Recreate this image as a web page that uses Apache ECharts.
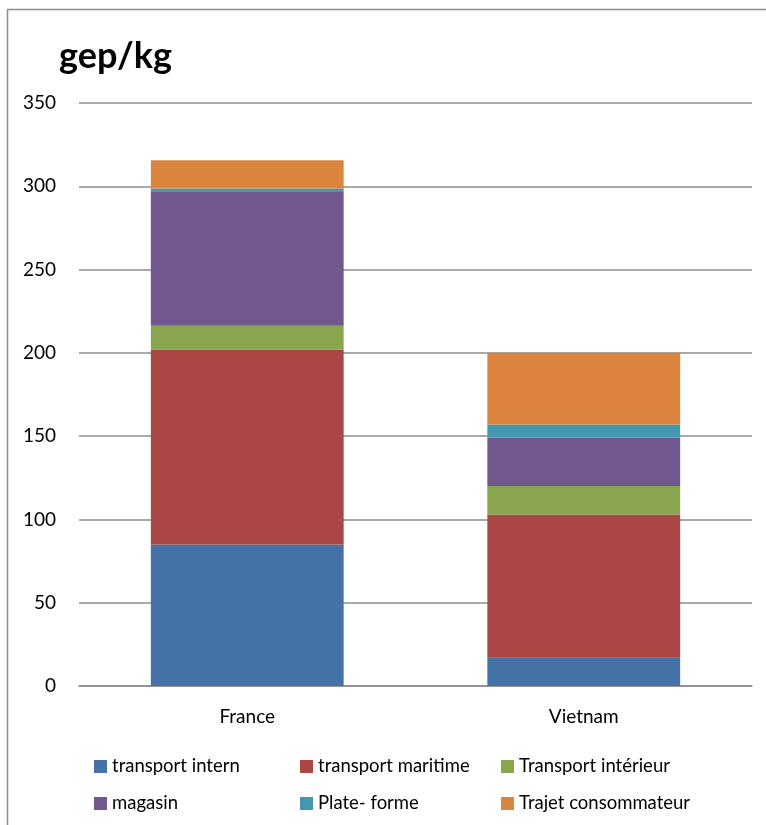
<!DOCTYPE html>
<html>
<head>
<meta charset="utf-8">
<script src="https://cdn.jsdelivr.net/npm/echarts@6/dist/echarts.min.js"></script>
<style>
  html, body { margin: 0; padding: 0; background: #fff; }
  #chart { width: 766px; height: 825px; }
</style>
</head>
<body>
<div id="chart"></div>
<script>
const categories = ['France', 'Vietnam'];
const seriesNames = ['transport intern', 'transport maritime', 'Transport intérieur', 'magasin', 'Plate- forme', 'Trajet consommateur'];
const transportIntern = [85, 17];
const transportMaritime = [117, 86];
const transportInterieur = [14.3, 17];
const magasin = [80.3, 29];
const plateForme = [2, 8];
const trajetConsommateur = [17, 43];
const yTicks = [0, 50, 100, 150, 200, 250, 300, 350];

const colors = ['#4572A7', '#AA4643', '#89A54E', '#71588F', '#4198AF', '#DB843D'];
const values = [transportIntern, transportMaritime, transportInterieur, magasin, plateForme, trajetConsommateur];
const font = 'Lato, "Open Sans", sans-serif';

// legend slots: 3 columns x 2 rows
const legendPos = [[94, 757], [300, 757], [501, 757], [94, 794], [300, 794], [501, 794]];

const chart = echarts.init(document.getElementById('chart'));

const option = {
  animation: false,
  graphic: [{
    type: 'rect',
    shape: { x: 7.5, y: 9.5, width: 900, height: 900 },
    style: { fill: 'none', stroke: '#8c8c8c', lineWidth: 1.5 }
  }],
  title: {
    text: 'gep/kg',
    left: 54,
    top: 33,
    textStyle: { fontFamily: font, fontWeight: 'bold', fontSize: 36, color: '#000' }
  },
  legend: seriesNames.map((n, i) => ({
    data: [n],
    left: legendPos[i][0],
    top: legendPos[i][1],
    padding: 0,
    itemWidth: 13,
    itemHeight: 13,
    itemGap: 0,
    icon: 'rect',
    textStyle: { fontFamily: font, fontSize: 18.5, color: '#000' }
  })),
  grid: { left: 79, right: 14, top: 103, bottom: 139 },
  xAxis: {
    type: 'category',
    data: categories,
    axisTick: { show: false },
    axisLine: { lineStyle: { color: '#8c8c8c', width: 1.5 } },
    axisLabel: { fontFamily: font, fontSize: 19, color: '#000', margin: 21 }
  },
  yAxis: {
    type: 'value',
    min: yTicks[0],
    max: yTicks[yTicks.length - 1],
    interval: 50,
    axisLine: { show: false },
    axisTick: { show: false },
    splitLine: { lineStyle: { color: '#8c8c8c', width: 1.5 } },
    axisLabel: { fontFamily: font, fontSize: 19, color: '#000', margin: 23 }
  },
  series: seriesNames.map((n, i) => ({
    name: n,
    type: 'bar',
    stack: 'total',
    data: values[i],
    barWidth: '57.3%',
    itemStyle: { color: colors[i] }
  }))
};

chart.setOption(option);
</script>
</body>
</html>
